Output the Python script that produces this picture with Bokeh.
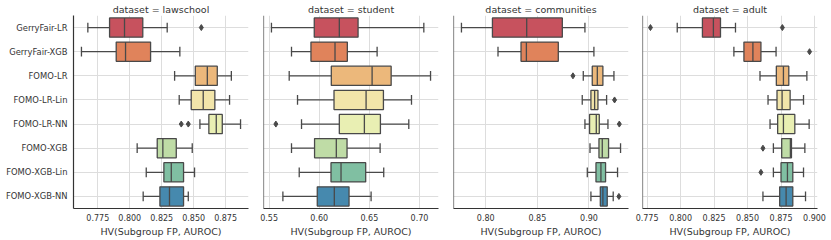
from bokeh.plotting import figure
from bokeh.layouts import row
from bokeh.models import ColumnDataSource, FactorRange, Range1d, FixedTicker, NumeralTickFormatter, Span
from bokeh.transform import dodge
from bokeh.embed import file_html
from bokeh.resources import INLINE

methods = ["GerryFair-LR", "GerryFair-XGB", "FOMO-LR", "FOMO-LR-Lin",
           "FOMO-LR-NN", "FOMO-XGB", "FOMO-XGB-Lin", "FOMO-XGB-NN"]
colors = ["#c7525e", "#e0835b", "#ecb87b", "#f2e5aa",
          "#e9efb3", "#bfdca6", "#80bfa2", "#4689ae"]

# lawschool
law_lo = [0.7672, 0.7622, 0.8351, 0.8387, 0.8549, 0.8058, 0.8129, 0.8105]
law_q1 = [0.7842, 0.7894, 0.8513, 0.8481, 0.8619, 0.8215, 0.8267, 0.8236]
law_med = [0.7959, 0.7967, 0.8607, 0.8575, 0.8677, 0.8259, 0.8325, 0.8311]
law_q3 = [0.8102, 0.8163, 0.8685, 0.8666, 0.8724, 0.8364, 0.8421, 0.8421]
law_hi = [0.8293, 0.8392, 0.8795, 0.8781, 0.8867, 0.8489, 0.8507, 0.8458]
law_out_m = ["GerryFair-LR", "FOMO-LR-NN", "FOMO-LR-NN"]
law_out_v = [0.856, 0.8403, 0.8458]
law_ticks = [0.775, 0.8, 0.825, 0.85, 0.875]

# student
stu_lo = [0.5523, 0.5723, 0.570, 0.5783, 0.5823, 0.5723, 0.580, 0.5637]
stu_q1 = [0.595, 0.5917, 0.612, 0.6147, 0.620, 0.5953, 0.6117, 0.598]
stu_med = [0.620, 0.6157, 0.6527, 0.6467, 0.645, 0.617, 0.6217, 0.615]
stu_q3 = [0.6387, 0.628, 0.6717, 0.664, 0.661, 0.6277, 0.6463, 0.6297]
stu_hi = [0.7043, 0.6577, 0.711, 0.692, 0.6893, 0.6607, 0.6643, 0.6517]
stu_out_m = ["FOMO-LR-NN"]
stu_out_v = [0.5567]
stu_ticks = [0.55, 0.6, 0.65, 0.7]

# communities
comm_lo = [0.7765, 0.8119, 0.8945, 0.8935, 0.8961, 0.901, 0.8984, 0.9019]
comm_q1 = [0.8065, 0.8342, 0.9032, 0.9019, 0.9006, 0.9097, 0.9068, 0.911]
comm_med = [0.8397, 0.8394, 0.9081, 0.9055, 0.9071, 0.9129, 0.9116, 0.9135]
comm_q3 = [0.8742, 0.8703, 0.9135, 0.9087, 0.910, 0.919, 0.9161, 0.9177]
comm_hi = [0.8961, 0.9048, 0.9242, 0.9171, 0.9184, 0.9306, 0.9277, 0.9235]
comm_out_m = ["FOMO-LR", "FOMO-LR-Lin", "FOMO-LR-NN", "FOMO-XGB-NN"]
comm_out_v = [0.8845, 0.9248, 0.9294, 0.929]
comm_ticks = [0.8, 0.85, 0.9]

# adult
adult_lo = [0.7975, 0.8398, 0.8593, 0.8653, 0.8668, 0.8693, 0.8693, 0.8615]
adult_q1 = [0.8163, 0.8473, 0.8715, 0.872, 0.8725, 0.8755, 0.875, 0.874]
adult_med = [0.8245, 0.854, 0.8768, 0.8758, 0.8768, 0.882, 0.8798, 0.8788]
adult_q3 = [0.8298, 0.86, 0.8808, 0.8818, 0.8853, 0.8828, 0.8838, 0.8838]
adult_hi = [0.841, 0.8713, 0.8943, 0.8918, 0.896, 0.8928, 0.8918, 0.8933]
adult_out_m = ["GerryFair-LR", "GerryFair-LR", "GerryFair-XGB", "FOMO-XGB", "FOMO-XGB-Lin"]
adult_out_v = [0.7775, 0.876, 0.8963, 0.8615, 0.860]
adult_ticks = [0.775, 0.8, 0.825, 0.85, 0.875, 0.9]

datasets = [
    ("lawschool", law_lo, law_q1, law_med, law_q3, law_hi, law_out_m, law_out_v, law_ticks, "0.000"),
    ("student", stu_lo, stu_q1, stu_med, stu_q3, stu_hi, stu_out_m, stu_out_v, stu_ticks, "0.00"),
    ("communities", comm_lo, comm_q1, comm_med, comm_q3, comm_hi, comm_out_m, comm_out_v, comm_ticks, "0.00"),
    ("adult", adult_lo, adult_q1, adult_med, adult_q3, adult_hi, adult_out_m, adult_out_v, adult_ticks, "0.000"),
]

FONT = "DejaVu Sans"
TEXT = "#333333"
GRAY = "#494949"
SPINE = "#333333"
LW = 1.3
FW, FH = 175, 193
borders = [(73, 7), (8, 7), (8, 7), (7, 13)]

figs = []
for i, (name, lo, q1, med, q3, hi, out_m, out_v, ticks, fmt) in enumerate(datasets):
    first = i == 0
    allv = lo + hi + out_v
    vmin, vmax = min(allv), max(allv)
    pad = 0.05 * (vmax - vmin)
    bl, br = borders[i]
    p = figure(y_range=FactorRange(factors=methods[::-1]),
               x_range=Range1d(vmin - pad, vmax + pad),
               frame_width=FW, frame_height=FH,
               min_border_left=bl, min_border_right=br,
               min_border_top=15, min_border_bottom=0,
               title="dataset = " + name,
               output_backend="svg", toolbar_location=None)
    p.title.align = "center"
    p.title.text_font = FONT
    p.title.text_font_size = "9.5px"
    p.title.text_font_style = "normal"
    p.title.text_color = TEXT
    p.title.standoff = 1
    p.outline_line_color = None
    p.background_fill_color = "white"
    src = ColumnDataSource(dict(m=methods, lo=lo, q1=q1, med=med, q3=q3, hi=hi, c=colors))

    p.segment(x0="lo", y0="m", x1="q1", y1="m", source=src, line_color=GRAY, line_width=LW)
    p.segment(x0="q3", y0="m", x1="hi", y1="m", source=src, line_color=GRAY, line_width=LW)
    p.segment(x0="lo", y0=dodge("m", -0.2, range=p.y_range), x1="lo", y1=dodge("m", 0.2, range=p.y_range),
              source=src, line_color=GRAY, line_width=LW)
    p.segment(x0="hi", y0=dodge("m", -0.2, range=p.y_range), x1="hi", y1=dodge("m", 0.2, range=p.y_range),
              source=src, line_color=GRAY, line_width=LW)
    p.hbar(y="m", left="q1", right="q3", height=0.8, source=src,
           fill_color="c", line_color=GRAY, line_width=LW)
    p.segment(x0="med", y0=dodge("m", -0.4, range=p.y_range), x1="med", y1=dodge("m", 0.4, range=p.y_range),
              source=src, line_color=GRAY, line_width=LW)
    p.scatter(x=out_v, y=out_m, marker="diamond", size=6, fill_color=GRAY, line_color=GRAY)

    ticker = FixedTicker(ticks=ticks)
    xa = p.xaxis[0]
    xa.ticker = ticker
    xa.formatter = NumeralTickFormatter(format=fmt)
    xa.axis_label = "HV(Subgroup FP, AUROC)"
    xa.axis_label_text_font = FONT
    xa.axis_label_text_font_size = "9.5px"
    xa.axis_label_text_font_style = "normal"
    xa.axis_label_text_color = TEXT
    xa.axis_label_standoff = 2
    xa.major_label_standoff = 5
    xa.major_label_text_font = FONT
    xa.major_label_text_font_size = "8px"
    xa.major_label_text_color = TEXT
    xa.major_tick_line_color = None
    xa.major_tick_out = 0
    xa.minor_tick_line_color = None
    xa.axis_line_color = SPINE
    xa.axis_line_width = 1.2

    ya = p.yaxis[0]
    if first:
        ya.major_tick_line_color = None
        ya.major_tick_out = 0
        ya.minor_tick_line_color = None
        ya.axis_line_color = SPINE
        ya.axis_line_width = 1.2
        ya.major_label_text_font = FONT
        ya.major_label_text_color = TEXT
        ya.major_label_text_font_size = "8.4px"
        ya.major_label_standoff = 6
    else:
        ya.visible = False
        p.add_layout(Span(location=vmin - pad, dimension="height",
                          line_color=SPINE, line_width=1.2))

    p.xgrid.ticker = ticker
    p.xgrid.grid_line_color = "#dddddd"
    p.ygrid.grid_line_color = "#dddddd"
    figs.append(p)

layout = row(*figs)
open("out.html", "w").write(file_html(layout, INLINE))
